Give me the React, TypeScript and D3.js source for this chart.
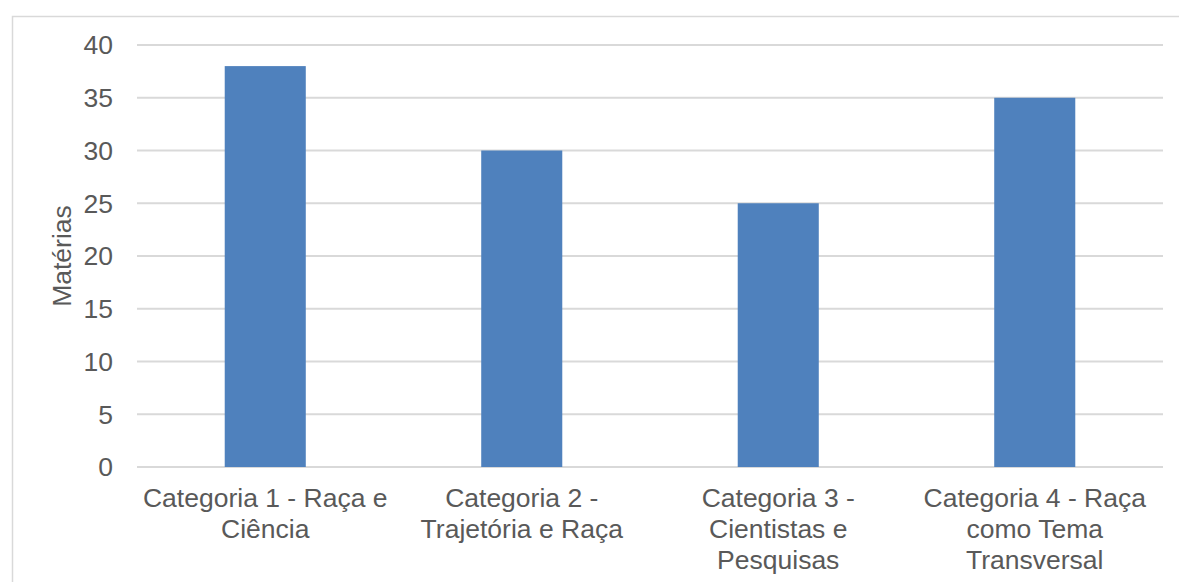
import React from "react";
import * as d3 from "d3";

const categories = ["c1", "c2", "c3", "c4"];
const categoryLines: string[][] = [
  ["Categoria 1 - Raça e", "Ciência"],
  ["Categoria 2 -", "Trajetória e Raça"],
  ["Categoria 3 -", "Cientistas e", "Pesquisas"],
  ["Categoria 4 - Raça", "como Tema", "Transversal"],
];
const values = [38, 30, 25, 35];
const yTicks = [0, 5, 10, 15, 20, 25, 30, 35, 40];
const yTitle = "Matérias";

const W = 1179;
const H = 582;
const plot = { left: 137, right: 1163, top: 45, bottom: 467 };
const FONT = "'Liberation Sans', Arial, sans-serif";
const TEXT = "#595959";
const GRID = "#D9D9D9";
const BAR = "#4F81BD";

export default function App() {
  const x = d3
    .scaleBand<string>()
    .domain(categories)
    .range([plot.left, plot.right])
    .paddingInner(0.684)
    .paddingOuter(0.342);
  const y = d3.scaleLinear().domain([0, 40]).range([plot.bottom, plot.top]);
  const step = x.step();

  return (
    <svg
      width={W}
      height={H}
      style={{ position: "absolute", left: 0, top: 0, background: "#fff" }}
      fontFamily={FONT}
    >
      <rect x={12.5} y={16.5} width={W} height={H} fill="#fff" stroke={GRID} strokeWidth={1.5} />
      {yTicks.map((t) => (
        <g key={t}>
          <line x1={plot.left} x2={plot.right} y1={y(t)} y2={y(t)} stroke={GRID} strokeWidth={2} />
          <text x={113} y={y(t)} dy="0.35em" textAnchor="end" fontSize={26.5} fill={TEXT}>
            {t}
          </text>
        </g>
      ))}
      {categories.map((c, i) => (
        <rect
          key={c}
          x={x(c)}
          y={y(values[i])}
          width={x.bandwidth()}
          height={y(0) - y(values[i])}
          fill={BAR}
        />
      ))}
      {categories.map((c, i) => {
        const cx = (x(c) as number) + x.bandwidth() / 2;
        return (
          <text key={c} x={cx} textAnchor="middle" fontSize={26.5} fill={TEXT}>
            {categoryLines[i].map((ln, j) => (
              <tspan key={j} x={cx} y={507 + j * 31}>
                {ln}
              </tspan>
            ))}
          </text>
        );
      })}
      <text
        transform={`translate(71, ${(plot.top + plot.bottom) / 2}) rotate(-90)`}
        textAnchor="middle"
        fontSize={26.5}
        fill={TEXT}
      >
        {yTitle}
      </text>
    </svg>
  );
}
